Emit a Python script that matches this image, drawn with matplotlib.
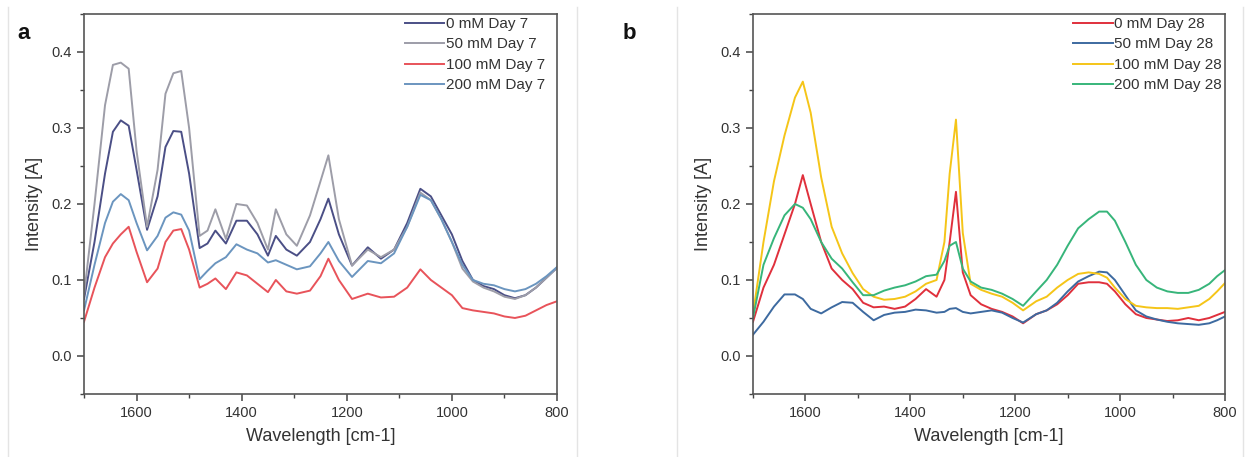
import matplotlib.pyplot as plt
from matplotlib.ticker import MultipleLocator
from matplotlib.lines import Line2D

plt.rcParams['font.family'] = ['Liberation Sans', 'DejaVu Sans']

# ---- panel a: Day 7 ----
wn_a = [1700, 1680, 1660, 1645, 1630, 1615, 1600, 1580, 1560, 1545, 1530, 1515,
        1500, 1480, 1465, 1450, 1430, 1410, 1390, 1370, 1350, 1335, 1315, 1295,
        1270, 1250, 1235, 1215, 1190, 1160, 1135, 1110, 1085, 1060, 1040, 1020,
        1000, 980, 960, 940, 920, 900, 880, 860, 840, 820, 800]

a_0mM = [0.075, 0.15, 0.24, 0.295, 0.31, 0.303, 0.245, 0.166, 0.21, 0.275, 0.296, 0.295,
         0.24, 0.142, 0.148, 0.165, 0.148, 0.178, 0.178, 0.16, 0.132, 0.158, 0.14, 0.132,
         0.15, 0.18, 0.207, 0.16, 0.119, 0.143, 0.128, 0.14, 0.175, 0.22, 0.21, 0.185,
         0.16, 0.125, 0.1, 0.092, 0.088, 0.08, 0.076, 0.08, 0.09, 0.103, 0.116]
a_50mM = [0.08, 0.2, 0.33, 0.383, 0.386, 0.378, 0.27, 0.17, 0.245, 0.345, 0.372, 0.375,
          0.3, 0.158, 0.165, 0.193, 0.154, 0.2, 0.198, 0.175, 0.14, 0.193, 0.16, 0.145,
          0.185, 0.23, 0.264, 0.18, 0.119, 0.14, 0.13, 0.14, 0.17, 0.215, 0.205, 0.18,
          0.15, 0.115, 0.098, 0.09, 0.085, 0.078, 0.075, 0.08, 0.09, 0.103, 0.116]
a_100mM = [0.045, 0.09, 0.13, 0.148, 0.16, 0.17, 0.137, 0.097, 0.115, 0.15, 0.165, 0.167,
           0.14, 0.09, 0.095, 0.102, 0.088, 0.11, 0.106, 0.095, 0.084, 0.1, 0.085, 0.082,
           0.086, 0.105, 0.128, 0.1, 0.075, 0.082, 0.077, 0.078, 0.09, 0.114, 0.1, 0.09,
           0.08, 0.063, 0.06, 0.058, 0.056, 0.052, 0.05, 0.053, 0.06, 0.067, 0.072]
a_200mM = [0.06, 0.12, 0.175, 0.203, 0.213, 0.205, 0.175, 0.139, 0.158, 0.182, 0.189, 0.186,
           0.165, 0.101, 0.112, 0.122, 0.13, 0.147, 0.14, 0.135, 0.123, 0.126, 0.12, 0.114,
           0.118, 0.135, 0.15, 0.125, 0.104, 0.125, 0.122, 0.135, 0.17, 0.212, 0.205, 0.18,
           0.15, 0.12, 0.1, 0.095, 0.093, 0.088, 0.085, 0.088, 0.095, 0.105, 0.117]
labels_a = ['0 mM Day 7', '50 mM Day 7', '100 mM Day 7', '200 mM Day 7']
colors_a = ['#4b4f86', '#9d9da8', '#e8535a', '#6b95bf']

# ---- panel b: Day 28 ----
wn_b = [1700, 1680, 1660, 1640, 1620, 1605, 1590, 1570, 1550, 1530, 1510, 1490,
        1470, 1450, 1430, 1410, 1390, 1370, 1350, 1335, 1325, 1313, 1300, 1285,
        1265, 1245, 1225, 1205, 1185, 1160, 1140, 1120, 1100, 1080, 1060, 1040,
        1025, 1010, 990, 970, 950, 930, 910, 890, 870, 850, 830, 815, 800]

b_0mM = [0.045, 0.09, 0.12, 0.16, 0.2, 0.238, 0.2, 0.15, 0.115, 0.1, 0.088, 0.07,
         0.064, 0.065, 0.062, 0.065, 0.075, 0.088, 0.078, 0.1, 0.15, 0.216, 0.11, 0.08,
         0.068, 0.062, 0.058, 0.052, 0.043, 0.055, 0.06, 0.068, 0.08, 0.095, 0.097, 0.097,
         0.095, 0.085, 0.068, 0.055, 0.05, 0.048, 0.046, 0.047, 0.05, 0.047, 0.05, 0.054, 0.058]
b_50mM = [0.028, 0.045, 0.065, 0.081, 0.081, 0.075, 0.062, 0.056, 0.064, 0.071, 0.07, 0.058,
          0.047, 0.054, 0.057, 0.058, 0.061, 0.06, 0.057, 0.058, 0.062, 0.063, 0.058, 0.056,
          0.058, 0.06, 0.057, 0.05, 0.044, 0.055, 0.06, 0.07, 0.085, 0.098, 0.105, 0.111,
          0.11, 0.1, 0.08, 0.06, 0.052, 0.048, 0.045, 0.043, 0.042, 0.041, 0.043, 0.047, 0.052]
b_100mM = [0.055, 0.15, 0.23, 0.29, 0.34, 0.361, 0.32, 0.235, 0.17, 0.135, 0.109, 0.088,
           0.078, 0.074, 0.075, 0.078, 0.085, 0.095, 0.1, 0.15, 0.24, 0.311, 0.162, 0.095,
           0.087, 0.082, 0.078, 0.07, 0.06, 0.072, 0.078, 0.09, 0.1, 0.108, 0.11, 0.108,
           0.103, 0.09, 0.075, 0.066, 0.064, 0.063, 0.063, 0.062, 0.064, 0.066, 0.075, 0.085, 0.096]
b_200mM = [0.05, 0.12, 0.155, 0.185, 0.2, 0.195, 0.18, 0.15, 0.128, 0.115, 0.097, 0.08,
           0.08, 0.086, 0.09, 0.093, 0.098, 0.105, 0.107, 0.125, 0.145, 0.15, 0.115, 0.098,
           0.09, 0.087, 0.082, 0.075, 0.066, 0.085, 0.1, 0.12, 0.145, 0.168, 0.18, 0.19,
           0.19, 0.178, 0.15, 0.12, 0.1, 0.09, 0.085, 0.083, 0.083, 0.087, 0.095, 0.105, 0.113]
labels_b = ['0 mM Day 28', '50 mM Day 28', '100 mM Day 28', '200 mM Day 28']
colors_b = ['#e0303c', '#3d6aa0', '#f5c518', '#37b57a']

text_col = '#333333'
fig = plt.figure(figsize=(12.5, 4.57), dpi=100)
ax_a = fig.add_axes([0.0672, 0.1379, 0.3784, 0.8315])
ax_b = fig.add_axes([0.6024, 0.1379, 0.3776, 0.8315])


def style(ax):
    ax.set_xlim(1700, 800)
    ax.set_ylim(-0.05, 0.45)
    ax.xaxis.set_minor_locator(MultipleLocator(100))
    ax.yaxis.set_minor_locator(MultipleLocator(0.05))
    ax.set_yticks([0.0, 0.1, 0.2, 0.3, 0.4])
    ax.set_xticks([1600, 1400, 1200, 1000, 800])
    ax.tick_params(which='major', direction='out', length=5, width=1.1,
                   colors='#444444', labelcolor=text_col, labelsize=10.5)
    ax.tick_params(which='minor', direction='out', length=3, width=1.0, colors='#444444')
    for s in ax.spines.values():
        s.set_color('#555555')
        s.set_linewidth(1.2)
    ax.set_xlabel('Wavelength [cm-1]', fontsize=13, color=text_col, labelpad=6)
    ax.set_ylabel('Intensity [A]', fontsize=13, color=text_col, labelpad=6)


for ys, lab, c in zip([a_0mM, a_50mM, a_100mM, a_200mM], labels_a, colors_a):
    ax_a.plot(wn_a, ys, color=c, lw=1.4, label=lab)
for ys, lab, c in zip([b_0mM, b_50mM, b_100mM, b_200mM], labels_b, colors_b):
    ax_b.plot(wn_b, ys, color=c, lw=1.4, label=lab)

for ax, anchor_x in ((ax_a, 0.981), (ax_b, 1.0)):
    style(ax)
    leg = ax.legend(loc='upper right', bbox_to_anchor=(anchor_x, 1.0), frameon=False,
                    fontsize=11, handlelength=2.6, handletextpad=0.1, labelspacing=0.42,
                    borderaxespad=0.0, borderpad=0.2)
    for t in leg.get_texts():
        t.set_color(text_col)

fig.text(0.014, 0.915, 'a', fontsize=16, fontweight='bold', color='#111111')
fig.text(0.498, 0.915, 'b', fontsize=16, fontweight='bold', color='#111111')

# faint panel frame lines
for xf in (0.0065, 0.4616, 0.5416, 0.9944):
    fig.add_artist(Line2D([xf, xf], [0.0, 0.985], color='#e4e4e4', lw=1.0))

fig.savefig('out.png', dpi=100)
